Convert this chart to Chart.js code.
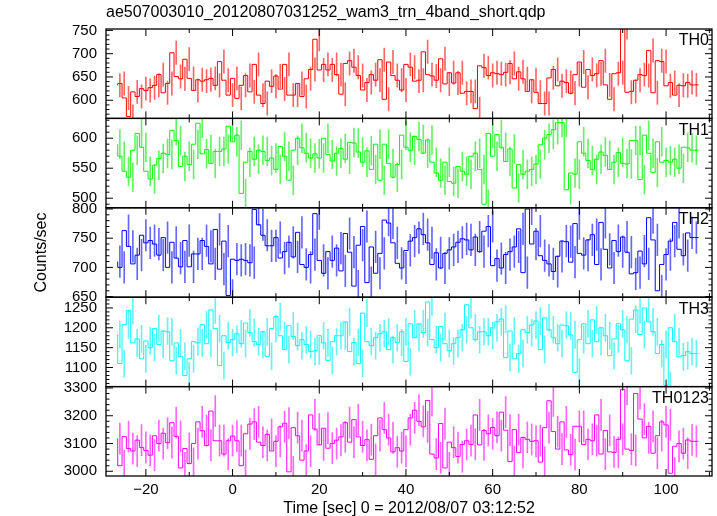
<!DOCTYPE html>
<html>
<head>
<meta charset="utf-8">
<script src="https://cdn.jsdelivr.net/npm/chart.js@4.4.1/dist/chart.umd.min.js"></script>
<style>
  html, body { margin: 0; padding: 0; background: #fff; }
  #wrap { width: 717px; height: 516px; }
</style>
</head>
<body>
<div id="wrap"><canvas id="lc" width="717" height="516"></canvas></div>
<script>
"use strict";

// 1 s bins, first bin centred on t = -26 s
const binStart = -26;
const binSec = 1;

const th0 = [
  632, 636, 605, 565, 618, 608, 625, 621, 627, 632,
  655, 616, 636, 702, 651, 646, 688, 647, 621, 644,
  641, 644, 647, 632, 683, 643, 611, 647, 604, 632,
  653, 618, 677, 611, 593, 641, 630, 652, 624, 677,
  611, 611, 636, 608, 646, 666, 731, 665, 677, 665,
  677, 655, 613, 679, 685, 671, 653, 622, 638, 655,
  643, 687, 602, 682, 653, 643, 622, 677, 671, 641,
  643, 704, 655, 652, 643, 689, 635, 659, 637, 659,
  615, 619, 619, 582, 674, 670, 653, 659, 657, 655,
  660, 679, 646, 661, 646, 619, 644, 617, 593, 593,
  648, 666, 631, 641, 638, 615, 655, 682, 628, 666,
  653, 657, 685, 633, 602, 657, 659, 756, 617, 619,
  643, 655, 653, 707, 616, 685, 683, 631, 638, 611,
  632, 631, 638, 633
];
const th1 = [
  590, 570, 545, 535, 580, 608, 585, 545, 532, 555,
  566, 575, 573, 613, 596, 553, 570, 556, 590, 625,
  574, 581, 558, 578, 578, 582, 620, 594, 605, 508,
  560, 578, 565, 580, 578, 563, 567, 548, 586, 570,
  530, 580, 600, 584, 575, 567, 574, 567, 600, 573,
  562, 575, 583, 565, 593, 592, 577, 560, 579, 548,
  590, 530, 590, 558, 535, 556, 605, 585, 580, 603,
  598, 575, 597, 560, 542, 530, 560, 528, 525, 553,
  545, 540, 570, 575, 548, 490, 608, 570, 606, 585,
  561, 582, 517, 556, 540, 545, 548, 557, 589, 600,
  606, 614, 626, 626, 514, 542, 540, 594, 575, 563,
  548, 565, 577, 571, 548, 560, 576, 558, 557, 596,
  596, 531, 605, 575, 543, 594, 560, 563, 560, 565,
  550, 585, 584, 580
];
const th2 = [
  710, 700, 763, 736, 706, 721, 755, 742, 746, 740,
  721, 751, 700, 743, 716, 701, 746, 701, 723, 723,
  746, 736, 706, 765, 697, 745, 652, 714, 712, 714,
  712, 708, 799, 773, 755, 737, 737, 751, 716, 727,
  743, 718, 760, 705, 700, 722, 792, 712, 690, 727,
  712, 733, 694, 758, 726, 668, 738, 770, 674, 735,
  690, 724, 781, 776, 742, 707, 699, 729, 745, 751,
  766, 756, 742, 705, 725, 699, 724, 730, 735, 743,
  749, 747, 730, 752, 727, 762, 770, 703, 715, 699,
  722, 727, 735, 766, 691, 800, 740, 762, 720, 712,
  706, 693, 719, 745, 744, 709, 775, 724, 721, 747,
  756, 705, 777, 731, 699, 746, 727, 752, 726, 689,
  691, 728, 706, 785, 747, 660, 705, 722, 745, 777,
  731, 720, 759, 751
];
const th3 = [
  1183, 1110, 1208, 1243, 1162, 1172, 1122, 1167, 1150, 1198,
  1158, 1192, 1190, 1117, 1162, 1128, 1080, 1122, 1165, 1162,
  1208, 1160, 1245, 1198, 1105, 1180, 1163, 1171, 1185, 1160,
  1212, 1188, 1165, 1158, 1190, 1128, 1198, 1228, 1180, 1145,
  1205, 1178, 1155, 1170, 1158, 1140, 1142, 1180, 1162, 1118,
  1165, 1180, 1180, 1215, 1140, 1163, 1110, 1237, 1165, 1155,
  1175, 1185, 1190, 1145, 1175, 1163, 1190, 1115, 1210, 1175,
  1210, 1188, 1265, 1170, 1150, 1203, 1160, 1142, 1160, 1175,
  1195, 1258, 1200, 1170, 1190, 1190, 1180, 1200, 1215, 1222,
  1125, 1192, 1122, 1135, 1195, 1188, 1207, 1217, 1145, 1225,
  1195, 1175, 1160, 1207, 1205, 1182, 1088, 1170, 1210, 1160,
  1220, 1165, 1200, 1180, 1130, 1172, 1210, 1195, 1117, 1222,
  1245, 1183, 1250, 1215, 1190, 1135, 1158, 1055, 1200, 1165,
  1127, 1130, 1140, 1135
];
const th0123 = [
  3118, 3020, 3125, 3082, 3073, 3112, 3086, 3075, 3058, 3128,
  3100, 3137, 3103, 3175, 3126, 3012, 3082, 3028, 3100, 3178,
  3146, 3093, 3217, 3110, 3110, 3062, 3110, 3127, 3110, 3020,
  3135, 3170, 3178, 3105, 3093, 3133, 3073, 3108, 3160, 3173,
  2998, 3157, 3128, 3040, 3073, 3203, 3152, 3095, 3155, 3083,
  3100, 3112, 3124, 3175, 3105, 3186, 3124, 3093, 3114, 3043,
  3128, 3192, 3150, 3120, 3070, 3085, 3073, 3150, 3192, 3220,
  3180, 3160, 3255, 3062, 3048, 3172, 3012, 3105, 3085, 3053,
  3097, 3110, 3097, 3203, 3095, 3147, 3135, 3158, 3128, 3213,
  3148, 3035, 3150, 3068, 3122, 3115, 3108, 3110, 3033, 3157,
  3254, 3143, 3080, 3178, 3077, 3060, 3162, 3162, 3097, 3115,
  3110, 3203, 3062, 3147, 3070, 3068, 3115, 3295, 3080, 3075,
  3280, 3188, 3120, 3162, 3065, 3128, 3178, 3167, 2993, 3090,
  3100, 3065, 3113, 3108
];

const bands = ["TH0", "TH1", "TH2", "TH3", "TH0123"];
const series = [th0, th1, th2, th3, th0123];
// typical 1-sigma half length of the error bars, per band
const errSize = [25, 24, 27, 34, 56];
const xTicks = [-20, 0, 20, 40, 60, 80, 100];

const colors = ["#ff0000", "#00ff00", "#0000ff", "#00ffff", "#ff00ff"];
const errColors = ["rgba(255,0,0,0.6)", "rgba(0,230,0,0.6)", "rgba(0,0,255,0.6)",
  "rgba(0,235,235,0.6)", "rgba(255,0,255,0.6)"];
const yRanges = [[561, 753], [484, 633], [649, 802], [1052, 1277], [2983, 3305]];
const yMajor = [50, 50, 50, 50, 100];
const yMinor = [10, 10, 10, 10, 20];

const FONT = "'Liberation Sans', Arial, Helvetica, sans-serif";
Chart.defaults.font.family = FONT;
Chart.defaults.color = "#000";

// inward ticks, panel frames and band names (qdp style)
const qdpFrame = {
  id: "qdpFrame",
  afterDraw(chart) {
    const ctx = chart.ctx;
    const xs = chart.scales.x;
    const left = chart.chartArea.left;
    const right = chart.chartArea.right;
    ctx.save();
    bands.forEach((name, p) => {
      const ys = chart.scales["y" + p];
      const top = ys.top, bottom = ys.bottom;
      ctx.strokeStyle = "#000";
      ctx.lineWidth = 1;
      ctx.beginPath();
      const step = yMinor[p];
      for (let v = Math.ceil(ys.min / step) * step; v <= ys.max; v += step) {
        const py = ys.getPixelForValue(v);
        const len = v % yMajor[p] === 0 ? 7 : 3.5;
        ctx.moveTo(left, py); ctx.lineTo(left + len, py);
        ctx.moveTo(right, py); ctx.lineTo(right - len, py);
      }
      for (let v = -20; v <= xs.max; v += 10) {
        const px = xs.getPixelForValue(v);
        const len = v % 20 === 0 ? 7 : 4;
        ctx.moveTo(px, top); ctx.lineTo(px, top + len);
        ctx.moveTo(px, bottom); ctx.lineTo(px, bottom - len);
      }
      ctx.stroke();
      ctx.lineWidth = 1.3;
      ctx.strokeRect(left, top, right - left, bottom - top);

      ctx.fillStyle = "#000";
      ctx.font = "16px " + FONT;
      ctx.textAlign = "right";
      ctx.textBaseline = "middle";
      ctx.fillText(name, right - 3, top + 12);
    });
    ctx.restore();
  }
};

const datasets = [];
series.forEach((vals, p) => {
  // histogram: one point on each bin's left edge, plus the closing edge
  const steps = vals.map((v, i) => ({ x: binStart + i * binSec - binSec / 2, y: v }));
  steps.push({ x: binStart + vals.length * binSec - binSec / 2, y: vals[vals.length - 1] });
  datasets.push({
    type: "line",
    label: bands[p],
    data: steps,
    yAxisID: "y" + p,
    stepped: "after",
    borderColor: colors[p],
    borderWidth: 1,
    pointRadius: 0,
    fill: false
  });
  datasets.push({
    type: "bar",
    label: bands[p] + " err",
    data: vals.map((v, i) => ({ x: binStart + i * binSec, y: [v - errSize[p], v + errSize[p]] })),
    yAxisID: "y" + p,
    backgroundColor: errColors[p],
    borderWidth: 0,
    barThickness: 1,
    grouped: false
  });
});

const scales = {
  x: {
    type: "linear",
    position: "bottom",
    min: -29.2,
    max: 110.6,
    offset: false,
    grid: { display: false, drawTicks: false },
    border: { display: false },
    afterBuildTicks: (s) => { s.ticks = xTicks.map((v) => ({ value: v })); },
    ticks: {
      padding: 5,
      autoSkip: false,
      maxRotation: 0,
      font: { size: 15 },
      callback: (v) => String(v).replace("-", "\u2212")
    },
    title: {
      display: true,
      text: "Time [sec] 0 = 2012/08/07 03:12:52",
      font: { size: 16, lineHeight: 0.9 },
      padding: { top: 0, bottom: 0 }
    },
    afterFit: (s) => { s.height = 40; }
  }
};
bands.forEach((b, p) => {
  scales["y" + p] = {
    type: "linear",
    position: "left",
    stack: "panels",
    stackWeight: 1,
    weight: bands.length - p,
    min: yRanges[p][0],
    max: yRanges[p][1],
    grid: { display: false, drawTicks: false },
    border: { display: false },
    afterBuildTicks: (s) => {
      const t = [];
      for (let v = Math.ceil(s.min / yMajor[p]) * yMajor[p]; v <= s.max; v += yMajor[p]) t.push({ value: v });
      s.ticks = t;
    },
    ticks: { padding: 9, autoSkip: false, font: { size: 15 }, callback: (v) => String(v) },
    title: p === 2
      ? { display: true, text: "Counts/sec", font: { size: 16, lineHeight: 1.2 }, padding: { top: 32, bottom: 0 } }
      : { display: false },
    afterFit: (s) => { s.width = 106; }
  };
});

new Chart(document.getElementById("lc"), {
  type: "line",
  data: { datasets: datasets },
  options: {
    responsive: false,
    animation: false,
    layout: { padding: { top: 0, right: 5, bottom: 0, left: 0 } },
    scales: scales,
    plugins: {
      legend: { display: false },
      tooltip: { enabled: false },
      title: {
        display: true,
        text: "ae507003010_20120807031252_wam3_trn_4band_short.qdp",
        align: "start",
        fullSize: false,
        color: "#000",
        font: { size: 16, weight: "normal", lineHeight: 1.2 },
        padding: { top: 3, bottom: 6.8 }
      }
    }
  },
  plugins: [qdpFrame]
});
</script>
</body>
</html>
